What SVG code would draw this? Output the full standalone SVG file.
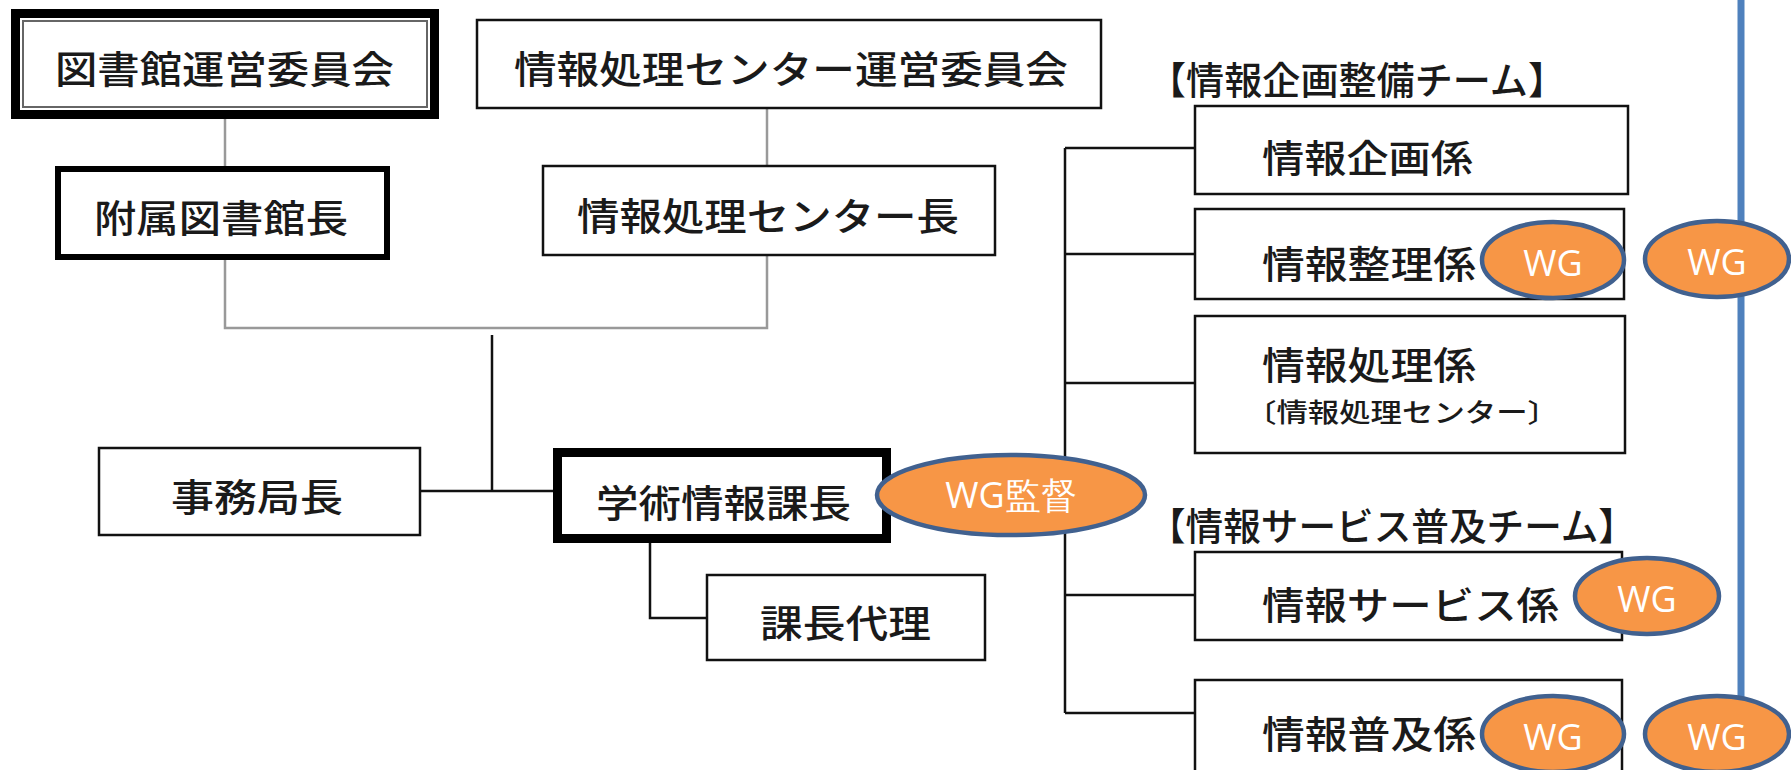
<svg xmlns="http://www.w3.org/2000/svg" width="1791" height="770" viewBox="0 0 1791 770">
<style>
.box{fill:#fff;stroke:#111;stroke-width:2.5}
.jp{font-family:"Noto Sans CJK JP","Noto Sans CJK SC",sans-serif;font-size:38px;fill:#1a1a1a;font-weight:500;dominant-baseline:central}
.sm{font-size:26px}
.ln{fill:none;stroke:#111;stroke-width:2.5}
.lg{fill:none;stroke:#999;stroke-width:2.5}
.wg{fill:#F79646;stroke:#41618F;stroke-width:4.5}
.wgt{font-family:"Open Sans","Liberation Sans",sans-serif;font-size:36px;fill:#fff;text-anchor:middle;dominant-baseline:central}
</style>
<rect width="1791" height="770" fill="#fff"/>
<g id="connectors">
  <path class="lg" d="M225 119V166"/>
  <path class="lg" d="M767 109V166"/>
  <path class="lg" d="M225 260V328H767V255"/>
  <path class="ln" d="M492 335V491"/>
  <path class="ln" d="M420 491H553"/>
  <path class="ln" d="M650 543V618H707"/>
  <path class="ln" d="M1065 148V713"/>
  <path class="ln" d="M1065 148H1195M1065 254H1195M1065 383H1195M1065 595H1195M1065 713H1195"/>
</g>
<g id="n-toshokan-iinkai">
  <rect x="15.5" y="13.5" width="419" height="101" fill="#fff" stroke="#000" stroke-width="9"/>
  <rect x="23" y="21" width="404" height="86" fill="none" stroke="#666" stroke-width="2"/>
  <text class="jp" x="55" y="66" textLength="339" lengthAdjust="spacingAndGlyphs">図書館運営委員会</text>
</g>
<g id="n-center-iinkai">
  <rect class="box" x="477" y="20" width="624" height="88"/>
  <text class="jp" x="514" y="66" textLength="554" lengthAdjust="spacingAndGlyphs">情報処理センター運営委員会</text>
</g>
<g id="n-fuzoku">
  <rect x="58" y="169" width="329" height="88" fill="#fff" stroke="#000" stroke-width="6"/>
  <text class="jp" x="94" y="215" textLength="254" lengthAdjust="spacingAndGlyphs">附属図書館長</text>
</g>
<g id="n-center-cho">
  <rect class="box" x="543" y="166" width="452" height="89"/>
  <text class="jp" x="577" y="213" textLength="382" lengthAdjust="spacingAndGlyphs">情報処理センター長</text>
</g>
<g id="n-jimukyoku">
  <rect class="box" x="99" y="448" width="321" height="87"/>
  <text class="jp" x="171" y="494" textLength="172" lengthAdjust="spacingAndGlyphs">事務局長</text>
</g>
<g id="n-gakujutsu">
  <rect x="557.5" y="452.5" width="329" height="86" fill="#fff" stroke="#000" stroke-width="9"/>
  <text class="jp" x="596" y="500" textLength="255" lengthAdjust="spacingAndGlyphs">学術情報課長</text>
</g>
<g id="n-dairi">
  <rect class="box" x="707" y="575" width="278" height="85"/>
  <text class="jp" x="760" y="620" textLength="171" lengthAdjust="spacingAndGlyphs">課長代理</text>
</g>
<g id="label-team1">
  <text class="jp" x="1148" y="77" textLength="418" lengthAdjust="spacingAndGlyphs">【情報企画整備チーム】</text>
</g>
<g id="n-kikaku">
  <rect class="box" x="1195" y="106" width="433" height="88"/>
  <text class="jp" x="1262" y="155" textLength="211" lengthAdjust="spacingAndGlyphs">情報企画係</text>
</g>
<g id="n-seiri">
  <rect class="box" x="1195" y="209" width="429" height="90"/>
  <text class="jp" x="1262" y="261" textLength="214" lengthAdjust="spacingAndGlyphs">情報整理係</text>
</g>
<g id="n-shori">
  <rect class="box" x="1195" y="316" width="430" height="137"/>
  <text class="jp" x="1262" y="362" textLength="214" lengthAdjust="spacingAndGlyphs">情報処理係</text>
  <text class="jp sm" x="1245" y="410" textLength="314" lengthAdjust="spacingAndGlyphs">〔情報処理センター〕</text>
</g>
<g id="label-team2">
  <text class="jp" x="1148" y="523" textLength="488" lengthAdjust="spacingAndGlyphs">【情報サービス普及チーム】</text>
</g>
<g id="n-service">
  <rect class="box" x="1195" y="552" width="427" height="88"/>
  <text class="jp" x="1262" y="602" textLength="297" lengthAdjust="spacingAndGlyphs">情報サービス係</text>
</g>
<g id="n-fukyu">
  <rect class="box" x="1195" y="680" width="427" height="100"/>
  <text class="jp" x="1262" y="731" textLength="214" lengthAdjust="spacingAndGlyphs">情報普及係</text>
</g>
<g id="blue-line">
  <path d="M1741 0V700" stroke="#4F81BD" stroke-width="7" fill="none"/>
</g>
<g id="wg-kantoku">
  <ellipse class="wg" cx="1011" cy="495" rx="134" ry="40"/>
  <text class="wgt" x="1011" y="494" font-size="40">WG監督</text>
</g>
<g id="wg-seiri">
  <ellipse class="wg" cx="1553" cy="260" rx="71" ry="38"/>
  <text class="wgt" x="1553" y="262">WG</text>
</g>
<g id="wg-right1">
  <ellipse class="wg" cx="1717" cy="259" rx="72" ry="38"/>
  <text class="wgt" x="1717" y="261">WG</text>
</g>
<g id="wg-service">
  <ellipse class="wg" cx="1647" cy="596" rx="72" ry="38"/>
  <text class="wgt" x="1647" y="598">WG</text>
</g>
<g id="wg-fukyu">
  <ellipse class="wg" cx="1553" cy="734" rx="71" ry="38"/>
  <text class="wgt" x="1553" y="736">WG</text>
</g>
<g id="wg-right2">
  <ellipse class="wg" cx="1717" cy="734" rx="72" ry="38"/>
  <text class="wgt" x="1717" y="736">WG</text>
</g>
</svg>
